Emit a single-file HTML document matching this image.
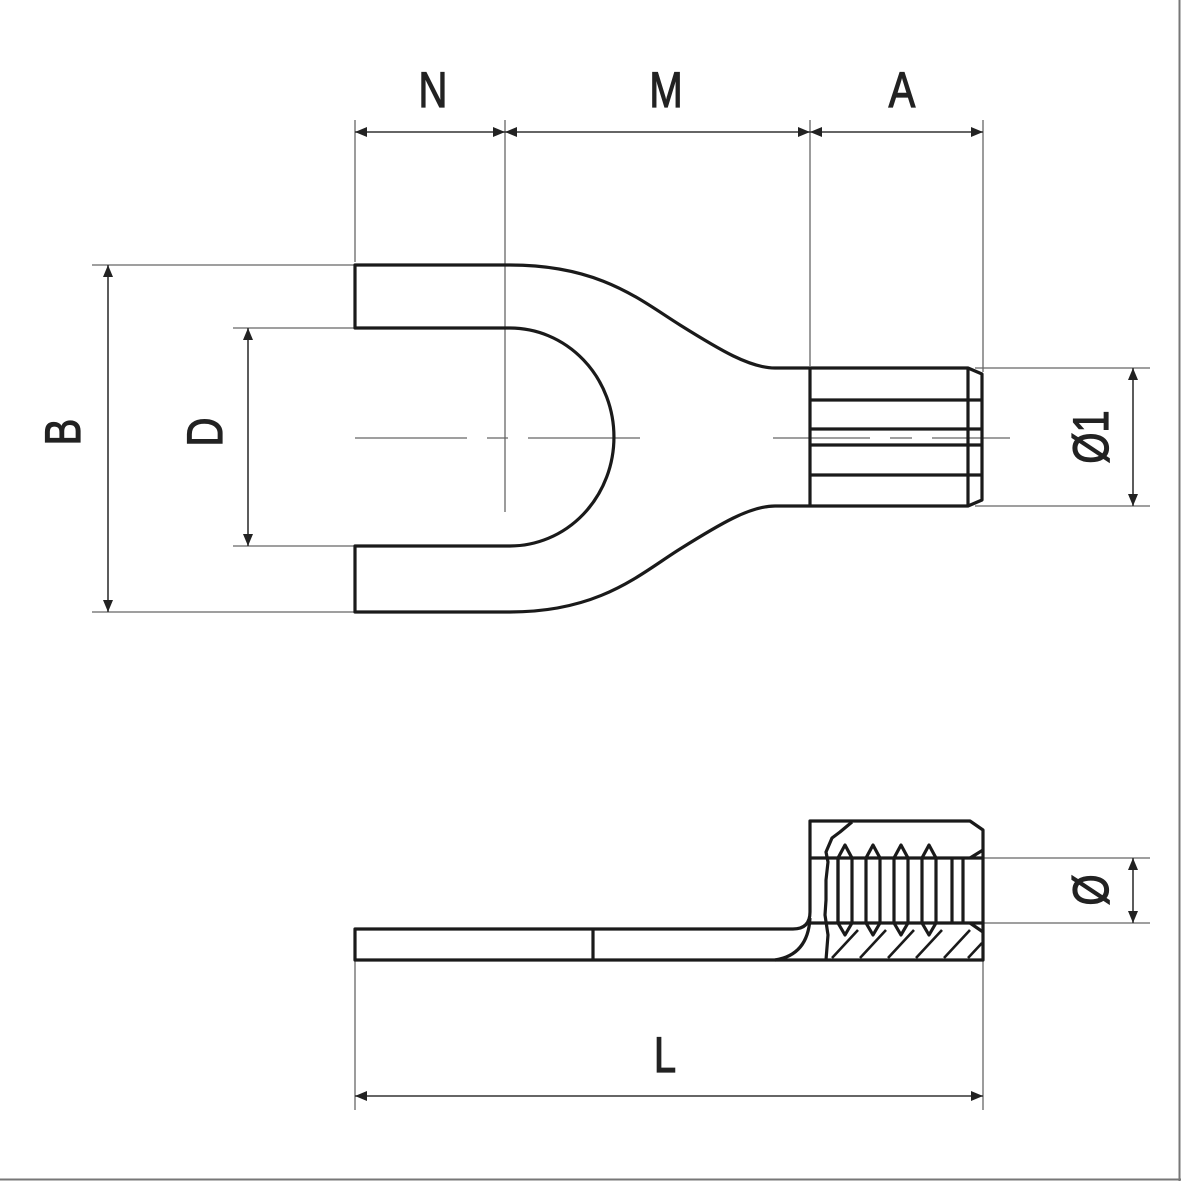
<!DOCTYPE html>
<html><head><style>
html,body{margin:0;padding:0;background:#fff}
svg{display:block}
text{font-family:"Liberation Sans",sans-serif;fill:#222;stroke:#222;stroke-width:1.2}
</style></head><body>
<svg width="1181" height="1181" viewBox="0 0 1181 1181" xmlns="http://www.w3.org/2000/svg">
<defs>
<marker id="ar" viewBox="0 0 12 10" refX="12" refY="5" markerWidth="12" markerHeight="10" orient="auto-start-reverse" markerUnits="userSpaceOnUse">
<path d="M0,0 L12,5 L0,10 z" fill="#222"/></marker>
</defs>
<line x1="0" y1="1179.5" x2="1181" y2="1179.5" stroke="#777" stroke-width="2"/>
<line x1="1179.5" y1="0" x2="1179.5" y2="1181" stroke="#777" stroke-width="2"/>

<g stroke="#666" stroke-width="1.3" fill="none">
<line x1="355" y1="120" x2="355" y2="262"/>
<line x1="505" y1="120" x2="505" y2="512"/>
<line x1="810" y1="120" x2="810" y2="366"/>
<line x1="983" y1="120" x2="983" y2="372"/>
<line x1="92" y1="265" x2="355" y2="265"/>
<line x1="92" y1="612" x2="355" y2="612"/>
<line x1="233" y1="328" x2="510" y2="328"/>
<line x1="233" y1="546" x2="510" y2="546"/>
<line x1="975" y1="368" x2="1150" y2="368"/>
<line x1="975" y1="506" x2="1150" y2="506"/>
<line x1="965" y1="858" x2="1150" y2="858"/>
<line x1="965" y1="923" x2="1150" y2="923"/>
<line x1="355" y1="960" x2="355" y2="1110"/>
<line x1="983" y1="960" x2="983" y2="1110"/>
<path d="M355 438 H467 M487 438 H508 M528 438 H640 M773 438 H870 M890 438 H912 M932 438 H1010" />
</g>

<g stroke="#333" stroke-width="1.6" fill="none">
<line x1="355" y1="132" x2="505" y2="132" marker-start="url(#ar)" marker-end="url(#ar)"/>
<line x1="505" y1="132" x2="810" y2="132" marker-start="url(#ar)" marker-end="url(#ar)"/>
<line x1="810" y1="132" x2="983" y2="132" marker-start="url(#ar)" marker-end="url(#ar)"/>
<line x1="108" y1="265" x2="108" y2="612" marker-start="url(#ar)" marker-end="url(#ar)"/>
<line x1="248" y1="328" x2="248" y2="546" marker-start="url(#ar)" marker-end="url(#ar)"/>
<line x1="1133" y1="368" x2="1133" y2="506" marker-start="url(#ar)" marker-end="url(#ar)"/>
<line x1="1133" y1="858" x2="1133" y2="923" marker-start="url(#ar)" marker-end="url(#ar)"/>
<line x1="355" y1="1096" x2="983" y2="1096" marker-start="url(#ar)" marker-end="url(#ar)"/>
</g>

<g font-size="50">
<text transform="translate(433,107) scale(0.8,1)" text-anchor="middle">N</text>
<text transform="translate(666,107) scale(0.8,1)" text-anchor="middle">M</text>
<text transform="translate(902,107) scale(0.8,1)" text-anchor="middle">A</text>
<text transform="translate(665,1072) scale(0.8,1)" text-anchor="middle">L</text>
<text transform="translate(80,432) rotate(-90) scale(0.8,1)" text-anchor="middle">B</text>
<text transform="translate(222,432) rotate(-90) scale(0.8,1)" text-anchor="middle">D</text>
<text transform="translate(1108,437) rotate(-90) scale(0.8,1)" text-anchor="middle">Ø1</text>
<text transform="translate(1108,890) rotate(-90) scale(0.8,1)" text-anchor="middle">Ø</text>
</g>

<g stroke="#1a1a1a" stroke-width="3.2" fill="none" stroke-linejoin="round">
<path d="M355 265 H510 C600 265 640 300 680 325 C720 350 750 368 775 368 H968 L982 374 V500 L968 506 H775 C750 506 720 524 680 549 C640 574 600 612 510 612 H355 V546 H510 A104 109 0 0 0 510 328 H355 Z"/>
<line x1="810" y1="368" x2="810" y2="506"/>
<line x1="968" y1="368" x2="968" y2="506"/>
<line x1="810" y1="400" x2="982" y2="400"/>
<line x1="810" y1="429" x2="982" y2="429"/>
<line x1="810" y1="445" x2="982" y2="445"/>
<line x1="810" y1="475" x2="982" y2="475"/>
</g>

<g stroke="#1a1a1a" stroke-width="3.2" fill="none" stroke-linejoin="round">
<path d="M355 929 H793 Q810 929 810 912 V821 H970 L983 830 V960 H355 Z"/>
<line x1="593" y1="929" x2="593" y2="960"/>
<path d="M775 960 Q808 955 810 918"/>
<line x1="810" y1="858" x2="983" y2="858"/>
<line x1="810" y1="923" x2="983" y2="923"/>
<line x1="963" y1="858" x2="963" y2="923"/>
<path d="M852 822 L840 832 L832 838 L826 852 L828 862 L826 880 L826 900 L825 915 L828 935 L826 960"/>
<path d="M970 858 L983 850 M970 923 L983 932"/>
<path d="M838 858 L845 845 L852 858 V923 L845 935 L838 923 Z"/>
<path d="M866 858 L873 845 L880 858 V923 L873 935 L866 923 Z"/>
<path d="M894 858 L901 845 L908 858 V923 L901 935 L894 923 Z"/>
<path d="M922 858 L929 845 L936 858 V923 L929 935 L922 923 Z"/>
<line x1="838" y1="858" x2="838" y2="923"/>
<line x1="952" y1="858" x2="952" y2="923"/>
</g>
<g stroke="#1a1a1a" stroke-width="2.6">
<line x1="832" y1="958" x2="858" y2="930"/>
<line x1="860" y1="958" x2="886" y2="930"/>
<line x1="888" y1="958" x2="914" y2="930"/>
<line x1="916" y1="958" x2="942" y2="930"/>
<line x1="944" y1="958" x2="970" y2="930"/>
<line x1="968" y1="958" x2="982" y2="943"/>
</g>
</svg>
</body></html>
